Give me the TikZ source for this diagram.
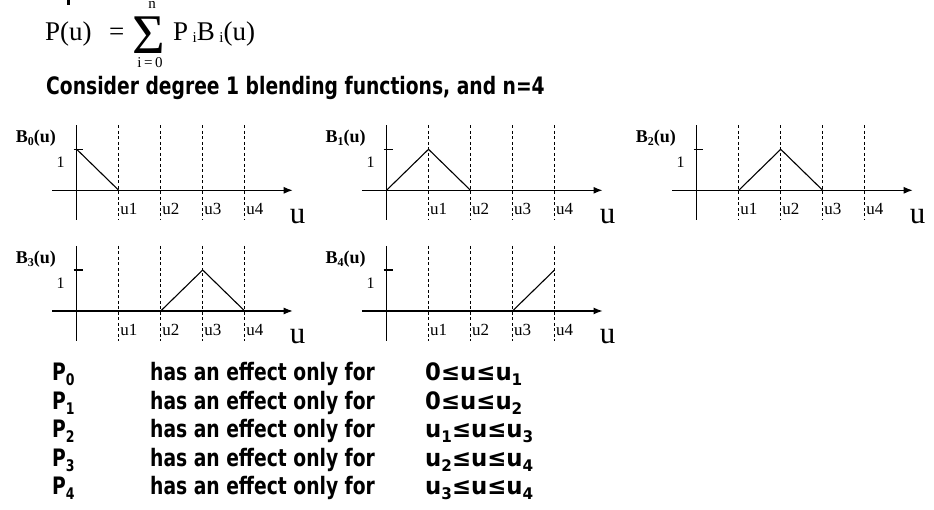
\documentclass[tikz,border=0pt]{standalone}
\usepackage{fontspec}
\setmainfont{Liberation Serif}
\newfontfamily\tah{DejaVu Sans}
\usetikzlibrary{arrows.meta}
\newcommand{\fs}[1]{\fontsize{#1}{#1}\selectfont}
\newcommand{\bt}[1]{\scalebox{0.78}[1]{\tah\bfseries\fs{24}#1}}
\newcommand{\rt}[1]{\scalebox{0.95}[1]{\tah\bfseries\fs{24}#1}}
\newcommand{\sbd}[1]{\raisebox{-5pt}{\fs{16}#1}}
\newcommand{\bgraph}[4]{%
\begin{scope}[shift={(#2,#3)}]
 \coordinate (#1o) at (0,0);
 \coordinate (#1top) at (0,-65);
 \coordinate (#1bot) at (0,30);
 \coordinate (#1xl) at (-24.7,0);
 \coordinate (#1xr) at (216,0);
 \coordinate (#1k0) at (0,0);
 \coordinate (#1p0) at (0,-41);
 \foreach \k in {1,2,3,4}{%
   \coordinate (#1k\k) at (42*\k,0);
   \coordinate (#1p\k) at (42*\k,-41);
   \coordinate (#1dt\k) at (42*\k,-65);
   \coordinate (#1db\k) at (42*\k,30);
   \draw[gridln] (#1dt\k) -- (#1db\k);
   \node[klab] (#1u\k) at (42*\k+1.5,19) {u\k};
 }
 \draw[axis] (#1top) -- (#1bot);
 \draw[axarrow] (#1xl) -- (#1xr);
 \coordinate (#1tl) at (-3,-41);
 \coordinate (#1tr) at (6,-41);
 \draw[axis] (#1tl) -- (#1tr);
 \node[onelab] (#1one) at (-16,-28) {1};
 \node[blab] (#1lab) at (-61,-52) {B\raisebox{-3pt}{\fs{12}#4}(u)};
 \node[ulab] (#1uu) at (221,26) {u};
\end{scope}}
\begin{document}
\begin{tikzpicture}[x=1pt,y=-1pt,
  axis/.style={line width=1.1pt},
  axarrow/.style={line width=1.1pt,-{Latex[length=9pt,width=7pt]}},
  gridln/.style={line width=0.8pt,dash pattern=on 3pt off 2.5pt},
  curve/.style={line width=1.1pt},
  blab/.style={anchor=west,inner sep=0pt,font=\bfseries\fs{18}},
  onelab/.style={inner sep=0pt,font=\fs{16}},
  klab/.style={anchor=west,inner sep=0pt,font=\fs{17}},
  ulab/.style={inner sep=0pt,font=\fs{31}},
  body/.style={anchor=base west,inner sep=0pt}]
\useasboundingbox (0,0) rectangle (934,510);
\fill (67,0) rectangle (70,5);
% formula
\node[body,font=\fs{27}] (Pu) at (45,41) {P(u)};
\node[body,font=\fs{27}] (eq) at (109,41) {=};
\node[inner sep=0pt,anchor=base,text height=28pt,text depth=0pt] (sig) at (149,54) {\smash{\scalebox{1.4}{\fs{40}Σ}}};
\node[inner sep=0pt,font=\fs{15},anchor=base] (sn) at (152,9) {n};
\node[inner sep=0pt,font=\fs{15},anchor=base] (si) at (150,68) {i\,=\,0};
\node[body,font=\fs{27}] (PB) at (173,41) {P\,\raisebox{-2pt}{\fs{15}i}B\,\raisebox{-2pt}{\fs{15}i}(u)};
\node[body] (cons) at (46,95) {\scalebox{0.78}[1]{\tah\bfseries\fs{24}Consider degree 1 blending functions, and n=4}};
% graphs
\bgraph{g0}{76.7}{190.3}{0}
\bgraph{g1}{386.5}{190.3}{1}
\bgraph{g2}{696.7}{190.3}{2}
\bgraph{g3}{76.7}{311}{3}
\bgraph{g4}{386.5}{311}{4}
\draw[curve] (g0p0) -- (g0k1);
\draw[curve] (g1k0) -- (g1p1) -- (g1k2);
\draw[curve] (g2k1) -- (g2p2) -- (g2k3);
\draw[curve] (g3k2) -- (g3p3) -- (g3k4);
\draw[curve] (g4k3) -- (g4p4);
% table
\node[body] (p0) at (52,381) {\bt{P\sbd{0}}};
\node[body] (h0) at (150,381) {\bt{has an effect only for}};
\node[body] (r0) at (425,381) {\rt{0≤u≤u\sbd{1}}};
\node[body] (p1) at (52,409.3) {\bt{P\sbd{1}}};
\node[body] (h1) at (150,409.3) {\bt{has an effect only for}};
\node[body] (r1) at (425,409.3) {\rt{0≤u≤u\sbd{2}}};
\node[body] (p2) at (52,437.6) {\bt{P\sbd{2}}};
\node[body] (h2) at (150,437.6) {\bt{has an effect only for}};
\node[body] (r2) at (425,437.6) {\rt{u\sbd{1}≤u≤u\sbd{3}}};
\node[body] (p3) at (52,466) {\bt{P\sbd{3}}};
\node[body] (h3) at (150,466) {\bt{has an effect only for}};
\node[body] (r3) at (425,466) {\rt{u\sbd{2}≤u≤u\sbd{4}}};
\node[body] (p4) at (52,494.3) {\bt{P\sbd{4}}};
\node[body] (h4) at (150,494.3) {\bt{has an effect only for}};
\node[body] (r4) at (425,494.3) {\rt{u\sbd{3}≤u≤u\sbd{4}}};
\end{tikzpicture}
\end{document}
